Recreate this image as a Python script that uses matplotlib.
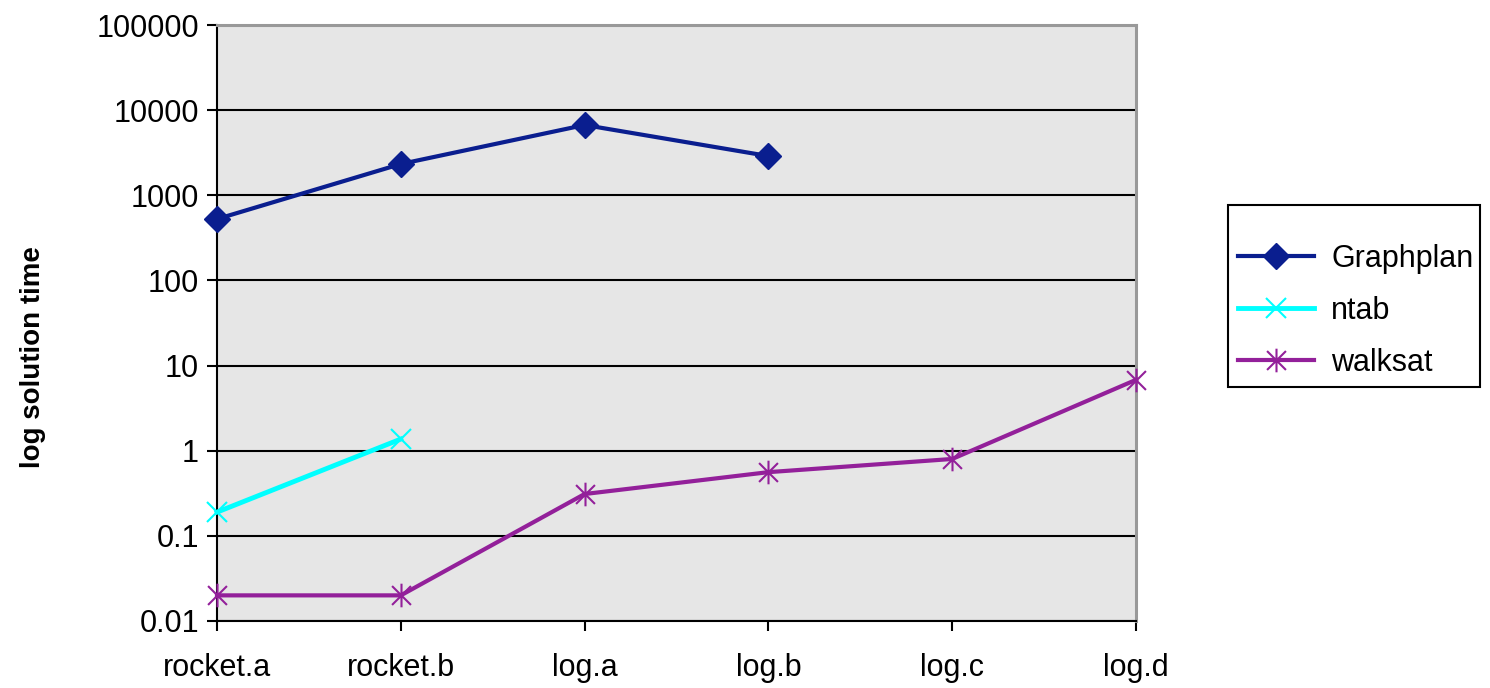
import matplotlib
matplotlib.use("Agg")
import matplotlib.pyplot as plt
from matplotlib.path import Path
from matplotlib.patches import Rectangle

plt.rcParams['font.family'] = ['Liberation Sans', 'DejaVu Sans']

categories = ['rocket.a', 'rocket.b', 'log.a', 'log.b', 'log.c', 'log.d']
graphplan = [526, 2330, 6690, 2890]
ntab = [0.19, 1.37]
walksat = [0.02, 0.02, 0.31, 0.56, 0.80, 6.8]
ytick_vals = [0.01, 0.1, 1, 10, 100, 1000, 10000, 100000]
ytick_labels = ['0.01', '0.1', '1', '10', '100', '1000', '10000', '100000']

# asterisk marker: an X plus a vertical bar
asterisk = Path([(-1, -1), (1, 1), (-1, 1), (1, -1), (0, -1.25), (0, 1.25)],
                [Path.MOVETO, Path.LINETO, Path.MOVETO, Path.LINETO, Path.MOVETO, Path.LINETO])

W, H = 1490, 688
fig = plt.figure(figsize=(W / 100, H / 100), dpi=100)
ax = fig.add_axes([217 / W, 1 - 621 / H, (1136 - 217) / W, (621 - 25) / H])
ax.set_facecolor('#E6E6E6')

x = list(range(len(categories)))
ax.plot(x[:len(graphplan)], graphplan, color='#0A1E8F', lw=3, marker='D', markersize=13,
        label='Graphplan', zorder=3, clip_on=False)
ax.plot(x[:len(ntab)], ntab, color='#00FFFF', lw=3.5, marker='x', markersize=15,
        markeredgewidth=1.5, label='ntab', zorder=3, clip_on=False)
ax.plot(x, walksat, color='#93209A', lw=3, marker=asterisk, markersize=17,
        markeredgewidth=1.5, label='walksat', zorder=3, clip_on=False)

ax.set_yscale('log')
ax.set_ylim(0.01, 100000)
ax.set_xlim(0, len(categories) - 1)
ax.set_yticks(ytick_vals)
ax.set_yticklabels(ytick_labels)
ax.yaxis.set_minor_locator(matplotlib.ticker.NullLocator())
ax.set_xticks(x)
ax.set_xticklabels(categories)
ax.tick_params(axis='both', labelsize=22, length=7, width=1.5, color='black')
ax.tick_params(axis='x', pad=16)
ax.tick_params(axis='y', pad=6)
ax.grid(True, axis='y', color='black', lw=1.5)
ax.set_axisbelow(True)

for s in ['left', 'bottom']:
    ax.spines[s].set_color('black')
    ax.spines[s].set_linewidth(1.5)
for s in ['top', 'right']:
    ax.spines[s].set_color('#999999')
    ax.spines[s].set_linewidth(2.2)

fig.text(33 / W, 1 - 357 / H, 'log solution time', rotation=90, fontsize=20,
         fontweight='bold', ha='center', va='center')

# legend box drawn separately so its size matches the reference
fig.patches.append(Rectangle((1228 / W, 1 - 387 / H), (1480 - 1228) / W, (387 - 205) / H,
                             transform=fig.transFigure, facecolor='white',
                             edgecolor='black', lw=1.5, zorder=0))
leg = fig.legend(loc='upper left', bbox_to_anchor=(1238 / W, 1 - 244 / H),
                 fontsize=22, frameon=False, borderpad=0,
                 labelspacing=0.72, handlelength=2.5, handletextpad=0.55,
                 borderaxespad=0)

fig.savefig('out.png', dpi=100)
